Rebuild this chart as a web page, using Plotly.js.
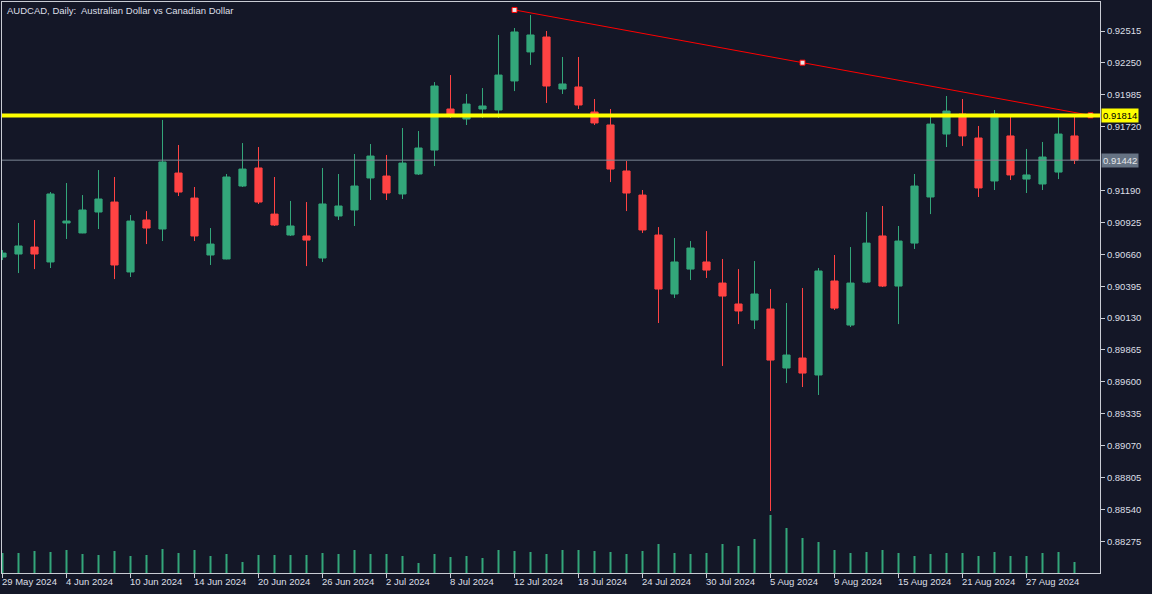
<!DOCTYPE html>
<html>
<head>
<meta charset="utf-8">
<script src="https://cdn.plot.ly/plotly-3.0.1.min.js"></script>
<style>
html,body{margin:0;padding:0;background:#141727;overflow:hidden;}
#chart{width:1152px;height:594px;}
</style>
</head>
<body>
<div id="chart"></div>
<script>
const dates = [
'2024-05-29','2024-05-30','2024-05-31','2024-06-03','2024-06-04','2024-06-05','2024-06-06','2024-06-07','2024-06-10','2024-06-11',
'2024-06-12','2024-06-13','2024-06-14','2024-06-17','2024-06-18','2024-06-19','2024-06-20','2024-06-21','2024-06-24','2024-06-25',
'2024-06-26','2024-06-27','2024-06-28','2024-07-01','2024-07-02','2024-07-03','2024-07-04','2024-07-05','2024-07-08','2024-07-09',
'2024-07-10','2024-07-11','2024-07-12','2024-07-15','2024-07-16','2024-07-17','2024-07-18','2024-07-19','2024-07-22','2024-07-23',
'2024-07-24','2024-07-25','2024-07-26','2024-07-29','2024-07-30','2024-07-31','2024-08-01','2024-08-02','2024-08-05','2024-08-06',
'2024-08-07','2024-08-08','2024-08-09','2024-08-12','2024-08-13','2024-08-14','2024-08-15','2024-08-16','2024-08-19','2024-08-20',
'2024-08-21','2024-08-22','2024-08-23','2024-08-26','2024-08-27','2024-08-28','2024-08-29','2024-08-30'];

const openP = [
0.90637,0.90662,0.90720,0.90596,0.90920,0.90837,0.91011,0.91094,0.90513,0.90945,
0.90870,0.91335,0.91127,0.90654,0.90621,0.91227,0.91377,0.90994,0.90820,0.90812,
0.90629,0.90978,0.91028,0.91294,0.91310,0.91161,0.91327,0.91526,0.91867,0.91784,
0.91867,0.91859,0.92100,0.92341,0.92465,0.92033,0.92050,0.91842,0.91734,0.91352,
0.91152,0.90820,0.90330,0.90537,0.90596,0.90421,0.90247,0.90114,0.90205,0.89715,
0.89798,0.89657,0.90438,0.90072,0.90429,0.90812,0.90396,0.90753,0.91136,0.91659,
0.91825,0.91626,0.91269,0.91643,0.91285,0.91244,0.91343,0.91643];

const highP = [
0.90695,0.90920,0.90945,0.91177,0.91252,0.91152,0.91360,0.91302,0.90986,0.91019,
0.91776,0.91568,0.91219,0.90878,0.91327,0.91584,0.91551,0.91302,0.91103,0.91094,
0.91377,0.91327,0.91493,0.91576,0.91485,0.91709,0.91684,0.92091,0.92149,0.91992,
0.92041,0.92482,0.92540,0.92648,0.92515,0.92299,0.92299,0.91950,0.91867,0.91435,
0.91194,0.90886,0.90795,0.90770,0.90853,0.90621,0.90537,0.90604,0.90371,0.90255,
0.90380,0.90546,0.90654,0.90720,0.91011,0.91061,0.90895,0.91327,0.91825,0.91975,
0.91950,0.91726,0.91859,0.91809,0.91535,0.91593,0.91809,0.91809];

const lowP = [
0.90612,0.90504,0.90537,0.90546,0.90787,0.90835,0.90870,0.90454,0.90471,0.90745,
0.90770,0.91144,0.90770,0.90571,0.90618,0.91219,0.91078,0.90895,0.90812,0.90562,
0.90596,0.90945,0.90895,0.91111,0.91111,0.91119,0.91319,0.91393,0.91792,0.91734,
0.91792,0.91792,0.92016,0.92233,0.91917,0.91992,0.91867,0.91734,0.91260,0.91019,
0.90837,0.90089,0.90297,0.90446,0.90463,0.89732,0.90080,0.90039,0.88527,0.89590,
0.89557,0.89491,0.90197,0.90056,0.90421,0.90388,0.90080,0.90704,0.90994,0.91551,
0.91560,0.91136,0.91194,0.91277,0.91169,0.91194,0.91285,0.91410];

const closeP = [
0.90670,0.90729,0.90662,0.91161,0.90936,0.91028,0.91119,0.90571,0.90936,0.90878,
0.91427,0.91177,0.90812,0.90745,0.91302,0.91368,0.91094,0.90903,0.90895,0.90778,
0.91078,0.91061,0.91227,0.91476,0.91169,0.91418,0.91543,0.92058,0.91809,0.91908,
0.91892,0.92149,0.92507,0.92482,0.92058,0.92075,0.91900,0.91751,0.91368,0.91169,
0.90862,0.90371,0.90596,0.90712,0.90529,0.90313,0.90189,0.90330,0.89781,0.89823,
0.89673,0.90521,0.90213,0.90421,0.90753,0.90396,0.90770,0.91227,0.91742,0.91850,
0.91643,0.91211,0.91825,0.91319,0.91319,0.91468,0.91659,0.91442];

const tickVolume = [
60000,60000,66000,63000,69000,57000,54000,66000,51000,54000,
72000,60000,69000,51000,57000,33000,54000,54000,54000,54000,
60000,57000,69000,57000,57000,51000,30000,57000,48000,51000,
45000,69000,66000,63000,57000,69000,69000,66000,63000,57000,
66000,87000,60000,57000,60000,87000,81000,102000,174000,135000,
105000,93000,69000,60000,63000,69000,60000,51000,57000,60000,
60000,51000,63000,51000,51000,60000,63000,33000];

const yTickVals = [0.92515,0.92250,0.91985,0.91720,0.91190,0.90925,0.90660,0.90395,0.90130,0.89865,0.89600,0.89335,0.89070,0.88805,0.88540,0.88275];
const xTickDates = ['2024-05-29','2024-06-04','2024-06-10','2024-06-14','2024-06-20','2024-06-26','2024-07-02','2024-07-08','2024-07-12','2024-07-18','2024-07-24','2024-07-30','2024-08-05','2024-08-09','2024-08-15','2024-08-21','2024-08-27'];
const xTickText = ['29 May 2024','4 Jun 2024','10 Jun 2024','14 Jun 2024','20 Jun 2024','26 Jun 2024','2 Jul 2024','8 Jul 2024','12 Jul 2024','18 Jul 2024','24 Jul 2024','30 Jul 2024','5 Aug 2024','9 Aug 2024','15 Aug 2024','21 Aug 2024','27 Aug 2024'];

const levelPrice = 0.91814;   // yellow horizontal level
const bidPrice = 0.91442;     // current price line
const trendBars = [32, 50, 68];            // bar index of anchor points (68 = one bar into the future)
const trendPrices = [0.92690, 0.92252, 0.91814];
const titleText = 'AUDCAD, Daily:\u00a0 Australian Dollar vs Canadian Dollar';

const BG = '#141727', GREEN = '#33a67a', RED = '#ff4343', FG = '#c9ccd4', TXT = '#dcdfe6';
const FONT = 'Liberation Sans, Arial, sans-serif';

const idx = dates.map((d, i) => i);
const xTickIdx = xTickDates.map(d => dates.indexOf(d));

const traces = [
  {
    type: 'bar', x: idx, y: tickVolume, yaxis: 'y2', width: 0.125,
    marker: {color: GREEN, line: {width: 0}}, hoverinfo: 'skip', showlegend: false
  },
  {
    type: 'candlestick', x: idx, open: openP, high: highP, low: lowP, close: closeP,
    increasing: {line: {color: GREEN, width: 1}, fillcolor: GREEN},
    decreasing: {line: {color: RED, width: 1}, fillcolor: RED},
    whiskerwidth: 0, hoverinfo: 'skip', showlegend: false
  },
  {
    type: 'scatter', mode: 'lines+markers', x: trendBars, y: trendPrices,
    line: {color: '#ff0000', width: 1},
    marker: {symbol: 'square', size: 5, color: '#e8e8e8', line: {color: '#ff0000', width: 1}},
    hoverinfo: 'skip', showlegend: false, cliponaxis: false
  }
];

const xAnn = xTickIdx.map((xi, k) => ({
  x: xi, xref: 'x', y: 0, yref: 'paper', yanchor: 'top', xanchor: 'left',
  text: xTickText[k], showarrow: false, xshift: -3, yshift: -1,
  font: {family: FONT, size: 9.5, color: TXT}
}));

const layout = {
  width: 1152, height: 594,
  paper_bgcolor: BG, plot_bgcolor: BG,
  margin: {l: 2, r: 52, t: 2, b: 21, pad: 0},
  showlegend: false,
  boxgap: 0.36,
  font: {family: FONT, size: 9.5, color: TXT},
  xaxis: {
    type: 'linear', range: [-0.031, 68.594], rangeslider: {visible: false},
    showgrid: false, zeroline: false, showline: true, linecolor: FG, linewidth: 1, mirror: true,
    ticks: 'outside', ticklen: 4, tickcolor: FG, tickmode: 'array', tickvals: xTickIdx,
    showticklabels: false, fixedrange: true
  },
  yaxis: {
    side: 'right', range: [0.88012, 0.92756], showgrid: false, zeroline: false,
    showline: true, linecolor: FG, linewidth: 1, mirror: true,
    ticks: 'outside', ticklen: 4, tickcolor: FG, tickmode: 'array', tickvals: yTickVals,
    tickformat: '.5f', tickfont: {family: FONT, size: 9.5, color: TXT}, fixedrange: true
  },
  yaxis2: {
    overlaying: 'y', range: [0, 1713000], visible: false, fixedrange: true
  },
  shapes: [
    {type: 'line', xref: 'paper', x0: 0, x1: 1, yref: 'y', y0: bidPrice, y1: bidPrice,
     line: {color: '#7b8694', width: 1}},
    {type: 'line', xref: 'paper', x0: 0, x1: 1, yref: 'y', y0: levelPrice, y1: levelPrice,
     line: {color: '#ffff00', width: 4}}
  ],
  annotations: [
    {x: 0, xref: 'paper', y: 1, yref: 'paper', xanchor: 'left', yanchor: 'top', xshift: 3, yshift: -1,
     text: titleText, showarrow: false, font: {family: FONT, size: 9.5, color: TXT}},
    {x: 1, xref: 'paper', y: levelPrice, yref: 'y', xanchor: 'left', yanchor: 'middle', xshift: 1,
     text: levelPrice.toFixed(5), showarrow: false, bgcolor: '#ffff00', borderpad: 1,
     font: {family: FONT, size: 9.5, color: '#000000'}},
    {x: 1, xref: 'paper', y: bidPrice, yref: 'y', xanchor: 'left', yanchor: 'middle', xshift: 1,
     text: bidPrice.toFixed(5), showarrow: false, bgcolor: '#667384', borderpad: 1,
     font: {family: FONT, size: 9.5, color: '#e4e6ea'}}
  ].concat(xAnn)
};

Plotly.newPlot('chart', traces, layout, {displayModeBar: false, staticPlot: true});
</script>
</body>
</html>
